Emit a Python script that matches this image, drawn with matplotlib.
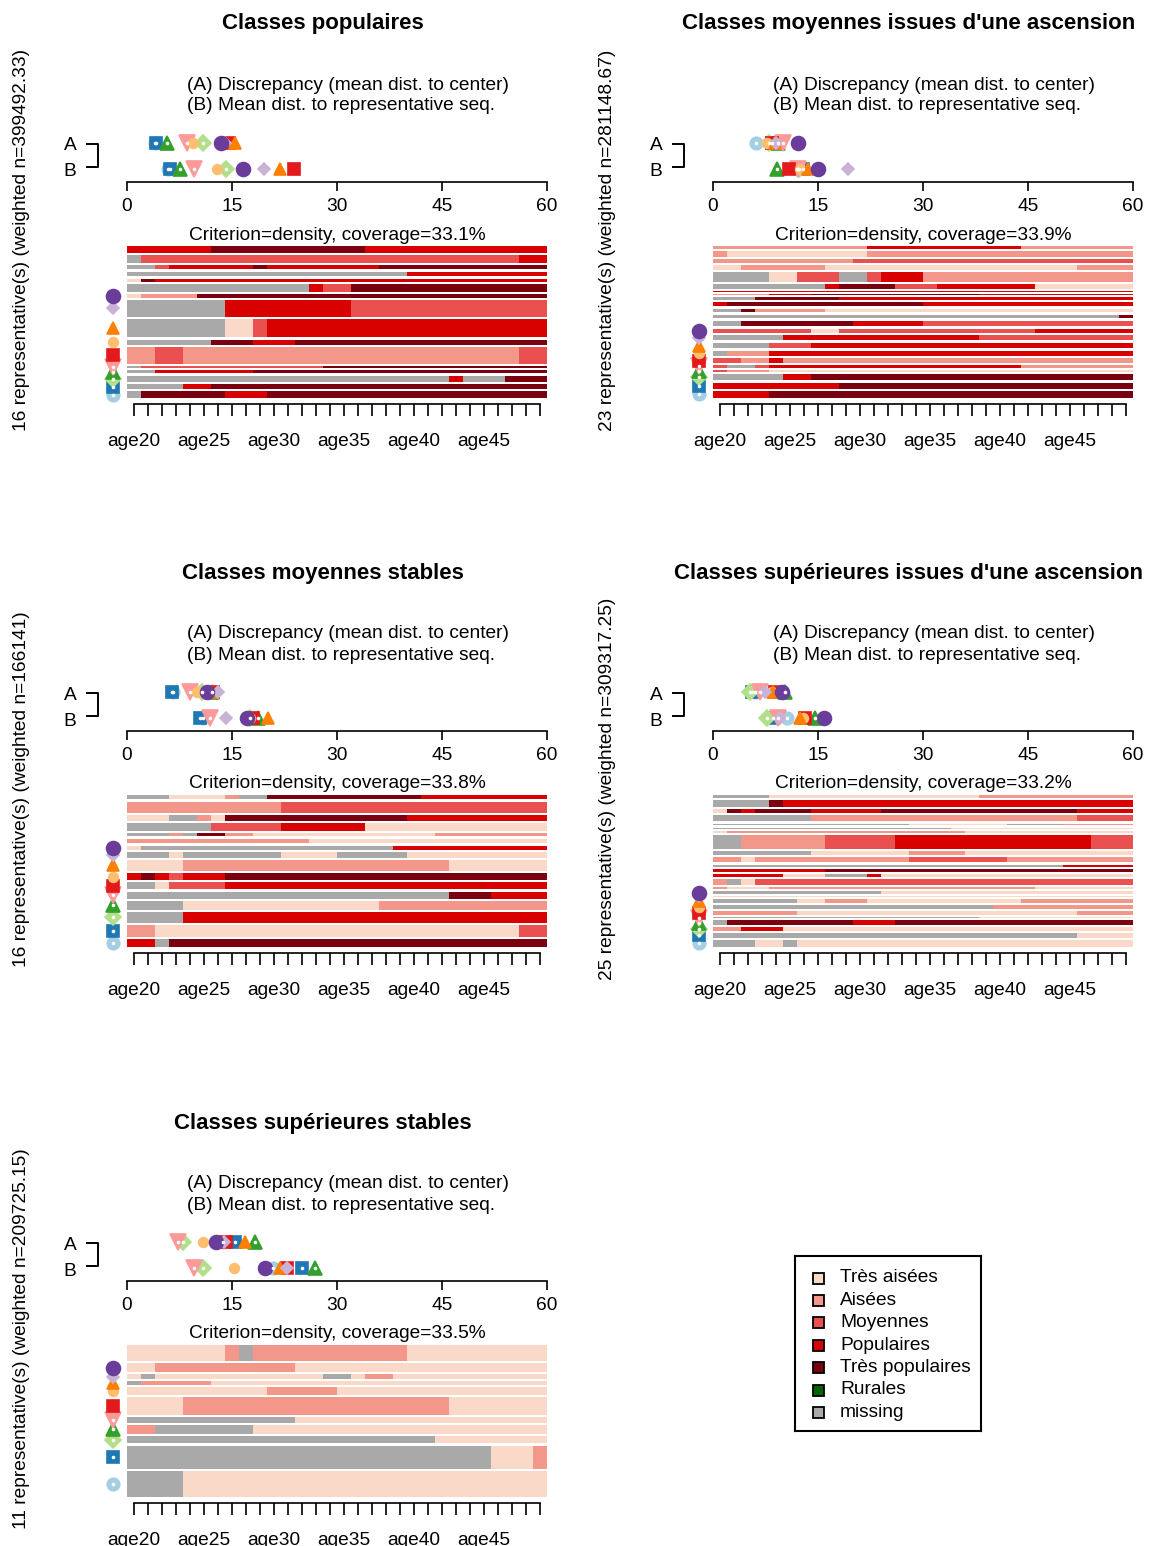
import numpy as np
import matplotlib.pyplot as plt
from matplotlib.patches import Rectangle

plt.rcParams['font.family'] = ['Liberation Sans', 'DejaVu Sans']

W, H = 1149, 1546

## Etats
state_codes = ['TA', 'A', 'M', 'P', 'TP', 'R', 'NA']
state_names = ['Très aisées', 'Aisées', 'Moyennes', 'Populaires', 'Très populaires', 'Rurales', 'missing']
state_colors = ['#FAD9C9', '#F3978A', '#EB5050', '#D90000', '#7A0010', '#006400', '#A9A9A9']
ages = ['age%d' % a for a in range(20, 50)]

# representatives 1..10 (Paired)
rep_colors = ['#A6CEE3', '#1F78B4', '#B2DF8A', '#33A02C', '#FB9A99',
              '#E31A1C', '#FDBF6F', '#FF7F00', '#CAB2D6', '#6A3D9A']
rep_markers = ['o', 's', 'D', '^', 'v', 's', 'o', '^', 'D', 'o']
rep_hollow = [True, True, True, True, True, False, False, False, False, False]
rep_ms = [9, 9, 8.5, 10, 11, 8, 7, 9, 6, 10]

titles = ['Classes populaires', "Classes moyennes issues d'une ascension",
          'Classes moyennes stables', "Classes supérieures issues d'une ascension",
          'Classes supérieures stables']
coverage = [33.1, 33.9, 33.8, 33.2, 33.5]
n_weighted = ['399492.33', '281148.67', '166141', '309317.25', '209725.15']

## Panel 1 - sequences du haut vers le bas
seq_p1 = ["P6 TP11 P13", "NA1 M27 P2", "NA2 M1 P6 TP1 P8 TP12", "NA20 P10",
          "TA1 TP1 P28", "NA13 P1 M2 TP14", "TA1 A4 TP25", "NA7 P9 M14",
          "NA7 TA2 M1 P20", "NA6 TP3 P3 TP18", "A2 M2 A24 M2", "NA1 M13 TP16",
          "NA2 P7 TP21", "NA23 P1 NA3 TP3", "NA4 P2 TP24", "NA1 TP6 P3 TP20"]
w_p1 = [20, 23, 14, 14, 9, 24, 11, 50, 56, 15, 50, 6, 10, 19, 15, 20]
disc_p1 = [4.0, 4.2, 10.9, 5.7, 8.5, 14.5, 9.4, 15.4, 14.0, 13.4]
dist_p1 = [5.8, 6.1, 14.2, 7.6, 9.5, 23.8, 12.9, 21.9, 19.6, 16.5]

## Panel 2
seq_p2 = ["A11 P11 A8", "A1 TA10 A19", "A10 M20", "TA2 A6 TA18 A4",
          "NA4 TA2 M3 NA2 M1 P3 A15", "NA8 P1 TP4 M3 P7 TA7", "P30",
          "A4 P3 TP12 P11", "NA3 TP6 P21", "P1 TP14 P15", "NA2 TP1 A5 TA22",
          "NA29 TP1", "NA2 TP8 P5 M15", "M7 TA2 M14 P7", "NA5 P14 M11",
          "NA4 M3 P23", "NA1 A3 P26", "M2 A2 P1 A25", "M1 NA2 M1 P18 A8",
          "M1 A3 TA26", "NA5 P2 TP23", "P9 TP21", "P4 TP26"]
w_p2 = [10, 20, 14, 15, 35, 14, 3, 3, 10, 15, 13, 13, 20, 15, 18, 20, 19, 15, 10, 6, 22, 20, 25]
disc_p2 = [6.2, 8.4, 8.0, 9.3, 10.0, 8.4, 7.7, 8.9, 9.0, 12.2]
dist_p2 = [12.0, 12.9, 12.3, 9.1, 12.2, 10.8, 12.4, 13.6, 19.3, 15.0]

## Panel 3
seq_p3 = ["NA3 TA4 A1 NA2 TP11 P9", "A11 M19", "TA3 NA2 A1 TA1 TP13 P10",
          "NA6 M5 P6 TA13", "NA3 A1 NA1 TP2 A2 TA13 A8", "A13 TA17",
          "TA1 NA18 P11", "NA3 TA1 NA7 TA4 NA5 TA10", "TA4 A19 TA7",
          "P1 TP1 P1 M1 P3 TP23", "NA2 TA1 M4 P23", "NA23 TP3 P4",
          "NA4 TA14 A12", "NA4 P26", "A2 TA26 M2", "P2 NA1 TP27"]
w_p3 = [14, 35, 19, 24, 11, 15, 15, 16, 36, 20, 24, 22, 28, 35, 37, 25]
disc_p3 = [6.5, 6.4, 10.7, 12.2, 9.0, 12.3, 10.0, 12.0, 13.0, 11.4]
dist_p3 = [10.8, 10.4, 17.6, 18.7, 11.9, 18.0, 17.5, 20.2, 14.2, 17.1]

## Panel 4
seq_p4 = ["NA4 TA15 A11", "NA4 TP1 P25", "TA1 TP1 P1 TP4 P5 TP14 P4",
          "NA7 A19 M4", "NA14 TA7 NA4 A5", "NA17 TA13", "TA1 A17 TA12",
          "NA2 A6 M5 P14 M3", "NA7 TA7 A4 TA12", "A2 TA1 A11 M7 A9",
          "NA25 P5", "P8 TP22", "P5 TA3 NA3 P1 TA18", "A1 NA1 TA1 M27",
          "A1 TA3 A19 TA7", "NA12 TA18", "TA30", "NA6 TA2 A3 TA11 A8",
          "NA20 A10", "A6 TA20 A4", "NA19 TA11", "NA1 TP9 P3 TP17",
          "A2 P3 TA25", "NA26 TA4", "NA3 TA2 NA1 TA24"]
w_p4 = [10, 25, 14, 25, 6, 4, 9, 50, 15, 19, 10, 10, 10, 20, 8, 10, 3, 14, 14, 15, 3, 18, 13, 17, 27]
disc_p4 = [6.0, 5.5, 5.3, 10.3, 6.7, 8.9, 8.4, 8.5, 7.4, 9.8]
dist_p4 = [10.5, 8.6, 7.7, 14.6, 9.3, 13.1, 12.9, 12.4, 9.5, 15.8]

## Panel 5
seq_p5 = ["TA7 A1 NA1 A11 TA10", "TA2 A10 TA18", "TA1 NA1 TA12 NA2 TA1 A2 TA11",
          "NA1 A5 TA24", "TA10 A5 TA15", "TA4 A19 TA7", "NA12 TA18",
          "A2 NA7 TA21", "NA22 TA8", "NA26 TA3 A1", "NA4 TA26"]
w_p5 = [45, 25, 14, 10, 21, 52, 15, 26, 20, 66, 73]
disc_p5 = [13.7, 15.4, 8.0, 18.3, 7.3, 14.2, 10.9, 16.8, 13.8, 12.7]
dist_p5 = [20.9, 25.0, 10.9, 26.9, 9.5, 22.8, 15.3, 21.8, 22.9, 19.7]

panels = [(seq_p1, w_p1, disc_p1, dist_p1), (seq_p2, w_p2, disc_p2, dist_p2),
          (seq_p3, w_p3, disc_p3, dist_p3), (seq_p4, w_p4, disc_p4, dist_p4),
          (seq_p5, w_p5, disc_p5, dist_p5)]
offsets = [(0, 0), (586, 0), (0, 549), (586, 549), (0, 1099)]


def runs(s):
    out = []
    for tok in s.split():
        code = tok.rstrip('0123456789')
        out.append((code, int(tok[len(code):])))
    return out


fig = plt.figure(figsize=(W / 100, H / 100), dpi=100)


def px_axes(x0, y0, x1, y1):
    return fig.add_axes([x0 / W, 1 - y1 / H, (x1 - x0) / W, (y1 - y0) / H])


def fx(x):
    return x / W


def fy(y):
    return 1 - y / H


def draw_marker(ax, x, y, k):
    c = rep_colors[k]
    ax.plot(x, y, marker=rep_markers[k], ms=rep_ms[k], mfc=c, mec=c,
            mew=1.2, clip_on=False, zorder=5)
    if rep_hollow[k]:
        ax.plot(x, y, marker='o', ms=2.6, mfc='white', mec='white',
                mew=0, clip_on=False, zorder=6)


TXT = 13.8
for p, ((seqs, w, disc, dist), (ox, oy)) in enumerate(zip(panels, offsets)):
    n = len(seqs)
    # titres et textes
    fig.text(fx(ox + 323), fy(oy + 24), titles[p], ha='center', va='center',
             fontsize=16, fontweight='bold')
    fig.text(fx(ox + 187), fy(oy + 85), '(A) Discrepancy (mean dist. to center)',
             ha='left', va='center', fontsize=TXT)
    fig.text(fx(ox + 187), fy(oy + 106), '(B) Mean dist. to representative seq.',
             ha='left', va='center', fontsize=TXT)
    fig.text(fx(ox + 337), fy(oy + 235), 'Criterion=density, coverage=%.1f%%' % coverage[p],
             ha='center', va='center', fontsize=TXT)
    fig.text(fx(ox + 22), fy(oy + 240), '%d representative(s) (weighted n=%s)' % (n, n_weighted[p]),
             ha='center', va='center', rotation=90, fontsize=TXT)
    fig.text(fx(ox + 70), fy(oy + 146), 'A', ha='center', va='center', fontsize=TXT)
    fig.text(fx(ox + 70), fy(oy + 172), 'B', ha='center', va='center', fontsize=TXT)

    # axe des distances
    ax_d = px_axes(ox + 127, oy + 130, ox + 547, oy + 182)
    ax_d.set_xlim(0, 60)
    ax_d.set_ylim(-0.5, 1.5)
    for s in ['left', 'right', 'top']:
        ax_d.spines[s].set_visible(False)
    ax_d.spines['bottom'].set_bounds(0, 60)
    ax_d.spines['bottom'].set_linewidth(1.2)
    ax_d.set_xticks([0, 15, 30, 45, 60])
    ax_d.tick_params(axis='x', length=6.5, width=1.2, pad=5, labelsize=TXT)
    ax_d.set_yticks([])
    ax_d.patch.set_alpha(0)
    ax_d.plot([-5.7, -4.15, -4.15, -5.7], [0.96, 0.96, 0.08, 0.08], color='black',
              lw=1.4, clip_on=False)
    for k in range(10):
        draw_marker(ax_d, disc[k], 1, k)
        draw_marker(ax_d, dist[k], 0, k)

    # sequences
    ax_s = px_axes(ox + 127, oy + 246, ox + 547, oy + 398)
    total = 152.0
    gap = 2.2
    avail = total - gap * (n - 1)
    hts = np.array(w, dtype=float) / np.sum(w) * avail
    top = 0.0
    centers = []
    for i, s in enumerate(seqs):
        c = top + hts[i] / 2
        centers.append(c)
        start = 0
        for code, ln in runs(s):
            ax_s.barh(c, ln, left=start, height=hts[i],
                      color=state_colors[state_codes.index(code)], linewidth=0)
            start += ln
        top += hts[i] + gap
    ax_s.set_xlim(0, 30)
    ax_s.set_ylim(total, 0)
    for k in range(10):
        draw_marker(ax_s, -1.0, centers[n - 1 - k], k)
    for s in ['left', 'right', 'top']:
        ax_s.spines[s].set_visible(False)
    ax_s.spines['bottom'].set_position(('outward', 4.3))
    ax_s.spines['bottom'].set_bounds(0.5, 29.5)
    ax_s.spines['bottom'].set_linewidth(1.2)
    ax_s.set_xticks(np.arange(30) + 0.5)
    ax_s.set_xticklabels([a if i % 5 == 0 else '' for i, a in enumerate(ages)])
    ax_s.tick_params(axis='x', length=8.6, width=1.2, pad=12, labelsize=TXT)
    ax_s.set_yticks([])

## Legende
ax_l = px_axes(795, 1256, 981, 1431)
ax_l.set_xlim(0, 186)
ax_l.set_ylim(175, 0)
ax_l.set_xticks([])
ax_l.set_yticks([])
for s in ax_l.spines.values():
    s.set_linewidth(1.5)
for i, (name, col) in enumerate(zip(state_names, state_colors)):
    yy = 22 + 22.4 * i
    ax_l.add_patch(Rectangle((17.5, yy - 5.5), 11, 11, facecolor=col, edgecolor='black', lw=1.3))
    ax_l.text(45, yy, name, ha='left', va='center', fontsize=TXT)

plt.savefig('out.png', dpi=100)
